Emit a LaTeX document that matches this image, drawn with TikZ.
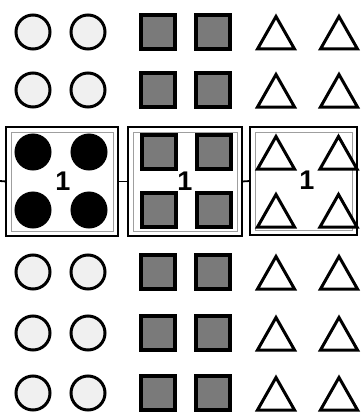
\documentclass[tikz,border=0pt]{standalone}
\usepackage{fontspec}
\setmainfont{Liberation Sans}
\begin{document}
\begin{tikzpicture}[x=1pt,y=-1pt,
  ring/.style={circle,draw=black,line width=3pt,fill=gray!12,minimum size=34pt,inner sep=0pt},
  dot/.style={circle,draw=black,line width=1pt,fill=black,minimum size=36pt,inner sep=0pt},
  sq/.style={rectangle,draw=black,line width=4pt,fill=black!52,minimum size=34pt,inner sep=0pt},
  grp/.style={rectangle,draw=black,line width=1.8pt,inner sep=0pt,outer sep=0pt},
  inner/.style={draw=gray!75,line width=0.8pt},
  link/.style={draw=black,line width=1.8pt},
  num/.style={font=\fontsize{27}{27}\selectfont\bfseries,inner sep=0pt},
  tri/.pic={\draw[black,line width=3pt,fill=white] (-18.5,17) -- (0,-15.5) -- (18.5,17) -- cycle;}
]
\useasboundingbox (0,0) rectangle (360,412);
% group boxes
\node[grp,minimum width=112pt,minimum height=109pt] (b1) at (62,181.5) {};
\node[grp,minimum width=114pt,minimum height=109pt] (b2) at (185,181.5) {};
\node[grp,minimum width=107pt,minimum height=108pt] (b3) at (303.5,181) {};
\foreach \b in {b1,b2,b3}{
  \draw[inner] ([shift={(5pt,-5pt)}]\b.north west) rectangle ([shift={(-5pt,5pt)}]\b.south east);
}
\coordinate (stub) at (0,181);
\draw[link] (stub) -- (b1.west);
\draw[link] (b1.east) -- (b2.west);
\draw[link] (b2.east) -- (b3.west);
% rows outside boxes
\foreach \r/\y in {1/32,2/90,5/272,6/333,7/393}{
  \node[ring] (c\r a) at (33,\y) {};
  \node[ring] (c\r b) at (88,\y) {};
  \node[sq] (s\r a) at (157.5,\y) {};
  \node[sq] (s\r b) at (213,\y) {};
  \pic at (276,\y) {tri};
  \pic at (339,\y) {tri};
}
% boxed rows
\foreach \r/\y in {3/152,4/210}{
  \node[dot] (c\r a) at (33,\y) {};
  \node[dot] (c\r b) at (89,\y) {};
  \node[sq] (s\r a) at (158.5,\y) {};
  \node[sq] (s\r b) at (214,\y) {};
  \pic at (276,\y) {tri};
  \pic at (338.5,\y) {tri};
}
\node[num] (n1) at (63,181) {1};
\node[num] (n2) at (185,181) {1};
\node[num] (n3) at (307,180) {1};
\end{tikzpicture}
\end{document}
